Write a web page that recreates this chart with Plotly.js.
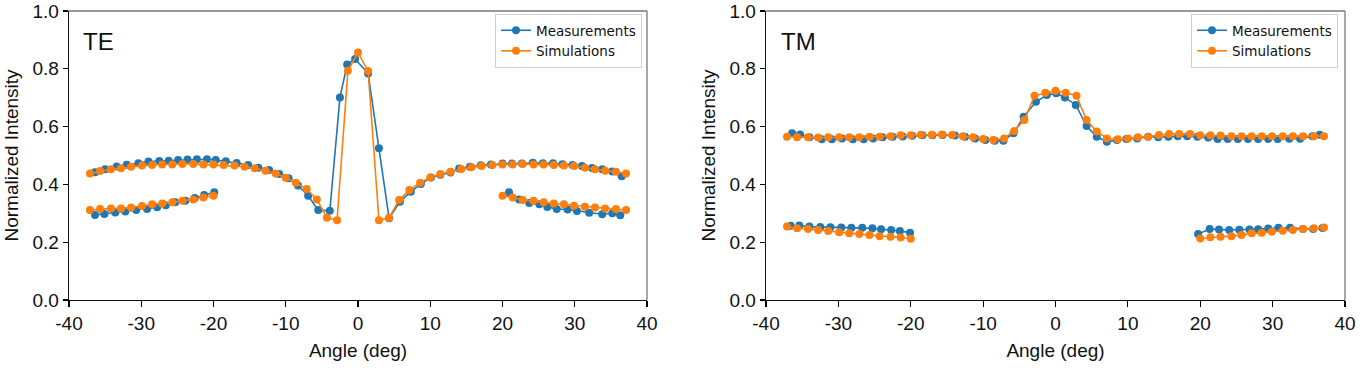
<!DOCTYPE html>
<html>
<head>
<meta charset="utf-8">
<script src="https://cdn.plot.ly/plotly-3.0.1.min.js"></script>
<style>html,body{margin:0;padding:0;background:#fff;}#chart{width:1363px;height:378px;}</style>
</head>
<body>
<div id="chart"></div>
<script>
// ---------- data ----------
const angleTicks = [-40, -30, -20, -10, 0, 10, 20, 30, 40];
const angleTickText = ['-40', '-30', '-20', '-10', '0', '10', '20', '30', '40'];
const intensityTicks = [0, 0.2, 0.4, 0.6, 0.8, 1.0];
const intensityTickText = ['0.0', '0.2', '0.4', '0.6', '0.8', '1.0'];

// Simulation angles (main branch)
const simAngles = [-37.1, -35.7, -34.2, -32.8, -31.4, -29.9, -28.5, -27.1, -25.7, -24.3, -22.8, -21.4, -20.0,
  -18.6, -17.1, -15.7, -14.3, -12.8, -11.4, -10.0, -8.6, -7.1, -5.7, -4.3, -2.9, -1.4, 0.0, 1.4, 2.9, 4.3,
  5.7, 7.1, 8.6, 10.0, 11.4, 12.8, 14.3, 15.7, 17.1, 18.6, 20.0, 21.4, 22.8, 24.3, 25.7, 27.1, 28.5, 29.9,
  31.4, 32.8, 34.2, 35.7, 37.1];
const simLowLeftAngles = [-37.1, -35.7, -34.2, -32.8, -31.4, -29.9, -28.5, -27.1, -25.7, -24.3, -22.8, -21.4, -20.0];
const simLowRightAngles = [20.0, 21.4, 22.8, 24.3, 25.7, 27.1, 28.5, 29.9, 31.4, 32.8, 34.2, 35.7, 37.1];

// TE - simulations
const teSimMain = [0.438, 0.446, 0.452, 0.456, 0.461, 0.465, 0.467, 0.469, 0.469, 0.471, 0.471, 0.469, 0.469,
  0.467, 0.465, 0.461, 0.456, 0.447, 0.438, 0.423, 0.406, 0.384, 0.348, 0.285, 0.276, 0.793, 0.856, 0.792,
  0.276, 0.285, 0.346, 0.381, 0.406, 0.424, 0.436, 0.444, 0.453, 0.459, 0.464, 0.467, 0.469, 0.469, 0.471,
  0.469, 0.469, 0.467, 0.465, 0.464, 0.458, 0.452, 0.447, 0.444, 0.438];
const teSimLowLeft = [0.311, 0.315, 0.317, 0.317, 0.320, 0.325, 0.331, 0.334, 0.338, 0.343, 0.348, 0.355, 0.361];
const teSimLowRight = [0.361, 0.355, 0.346, 0.343, 0.338, 0.334, 0.331, 0.326, 0.323, 0.320, 0.317, 0.315, 0.311];

// TE - measurements
const teMeasMainAngles = [-36.4, -35.0, -33.4, -32.0, -30.4, -29.0, -27.5, -26.2, -24.9, -23.6, -22.3, -20.9,
  -19.7, -18.3, -16.8, -15.2, -13.8, -12.3, -10.9, -9.6, -8.3, -6.9, -5.5, -3.9, -2.5, -1.5, -0.4, 1.4, 2.9,
  4.3, 5.8, 7.3, 8.7, 10.1, 11.4, 12.8, 14.0, 15.5, 17.0, 18.4, 20.0, 21.3, 22.7, 24.2, 25.6, 27.0, 28.3,
  29.7, 31.0, 32.4, 33.8, 35.2, 36.5];
const teMeasMain = [0.442, 0.452, 0.462, 0.468, 0.473, 0.479, 0.481, 0.482, 0.484, 0.486, 0.487, 0.487,
  0.484, 0.480, 0.474, 0.467, 0.458, 0.450, 0.436, 0.421, 0.396, 0.361, 0.311, 0.309, 0.701, 0.815, 0.834,
  0.784, 0.525, 0.283, 0.340, 0.375, 0.401, 0.424, 0.433, 0.441, 0.455, 0.461, 0.466, 0.469, 0.472, 0.472,
  0.472, 0.475, 0.473, 0.473, 0.470, 0.467, 0.464, 0.457, 0.452, 0.445, 0.428];
const teMeasLowLeftAngles = [-36.4, -35.1, -33.6, -32.2, -30.7, -29.2, -27.8, -26.6, -25.3, -23.9, -22.6, -21.3, -19.9];
const teMeasLowLeft = [0.294, 0.298, 0.303, 0.306, 0.311, 0.315, 0.321, 0.328, 0.338, 0.343, 0.353, 0.363, 0.373];
const teMeasLowRightAngles = [20.9, 22.3, 23.7, 25.1, 26.2, 27.5, 29.0, 30.3, 32.0, 33.8, 35.2, 36.3];
const teMeasLowRight = [0.373, 0.348, 0.336, 0.331, 0.322, 0.315, 0.313, 0.308, 0.302, 0.297, 0.300, 0.293];

// TM - simulations
const tmSimMain = [0.565, 0.563, 0.563, 0.562, 0.563, 0.563, 0.563, 0.563, 0.565, 0.565, 0.567, 0.570, 0.570,
  0.572, 0.572, 0.573, 0.571, 0.567, 0.563, 0.557, 0.554, 0.559, 0.585, 0.623, 0.707, 0.717, 0.724, 0.717,
  0.707, 0.623, 0.583, 0.559, 0.556, 0.559, 0.563, 0.565, 0.571, 0.574, 0.574, 0.574, 0.570, 0.570, 0.569,
  0.567, 0.567, 0.567, 0.567, 0.567, 0.567, 0.567, 0.567, 0.567, 0.567];
const tmSimLowLeft = [0.254, 0.248, 0.246, 0.242, 0.239, 0.234, 0.231, 0.228, 0.225, 0.221, 0.219, 0.216, 0.212];
const tmSimLowRight = [0.213, 0.217, 0.219, 0.221, 0.225, 0.231, 0.233, 0.236, 0.240, 0.242, 0.246, 0.248, 0.251];

// TM - measurements
const tmMeasMainAngles = [-36.4, -35.3, -34.0, -32.3, -30.9, -29.5, -28.0, -26.5, -25.2, -23.9, -22.5, -21.1,
  -19.8, -18.4, -17.0, -15.6, -13.9, -12.5, -11.1, -9.7, -8.4, -7.2, -5.8, -4.4, -2.7, -1.2, 0.1, 1.3, 2.8,
  4.3, 5.7, 7.1, 8.5, 9.8, 11.3, 12.8, 14.2, 15.6, 16.9, 18.2, 19.6, 21.1, 22.4, 23.8, 25.2, 26.6, 28.0,
  29.4, 30.7, 32.3, 33.8, 35.5, 36.5];
const tmMeasMain = [0.577, 0.573, 0.563, 0.556, 0.556, 0.559, 0.556, 0.556, 0.559, 0.563, 0.565, 0.566,
  0.568, 0.570, 0.570, 0.571, 0.569, 0.565, 0.559, 0.554, 0.551, 0.551, 0.577, 0.634, 0.686, 0.709, 0.715,
  0.701, 0.675, 0.602, 0.565, 0.548, 0.554, 0.557, 0.559, 0.565, 0.563, 0.565, 0.567, 0.567, 0.565, 0.562,
  0.557, 0.557, 0.557, 0.557, 0.557, 0.557, 0.557, 0.558, 0.558, 0.567, 0.572];
const tmMeasLowLeftAngles = [-36.6, -35.4, -34.0, -32.5, -31.1, -29.6, -28.2, -26.7, -25.3, -24.1, -22.7, -21.5, -20.1];
const tmMeasLowLeft = [0.257, 0.258, 0.254, 0.253, 0.252, 0.251, 0.250, 0.250, 0.248, 0.245, 0.242, 0.239, 0.233];
const tmMeasLowRightAngles = [19.7, 21.3, 22.6, 24.0, 25.4, 26.8, 28.0, 29.4, 30.8, 32.4, 34.2, 35.6, 36.9];
const tmMeasLowRight = [0.228, 0.246, 0.244, 0.242, 0.243, 0.244, 0.245, 0.247, 0.250, 0.250, 0.246, 0.246, 0.249];

// ---------- helpers ----------
function joinSegments(segs) {
  const out = [];
  segs.forEach((s, i) => { if (i > 0) out.push(null); s.forEach(v => out.push(v)); });
  return out;
}
const BLUE = '#1f77b4', ORANGE = '#ff7f0e';
const FONT = 'Liberation Sans, Arial, Helvetica, sans-serif';

function series(name, color, xs, ys, xa, ya, legend, show) {
  return {
    type: 'scatter', mode: 'lines+markers', name: name,
    x: joinSegments(xs), y: joinSegments(ys),
    xaxis: xa, yaxis: ya, legend: legend, showlegend: show,
    connectgaps: false,
    line: {color: color, width: 1.6},
    marker: {color: color, size: 8, symbol: 'circle'}
  };
}

const traces = [
  series('Measurements', BLUE, [teMeasMainAngles, teMeasLowLeftAngles, teMeasLowRightAngles],
         [teMeasMain, teMeasLowLeft, teMeasLowRight], 'x', 'y', 'legend', true),
  series('Simulations', ORANGE, [simAngles, simLowLeftAngles, simLowRightAngles],
         [teSimMain, teSimLowLeft, teSimLowRight], 'x', 'y', 'legend', true),
  series('Measurements', BLUE, [tmMeasMainAngles, tmMeasLowLeftAngles, tmMeasLowRightAngles],
         [tmMeasMain, tmMeasLowLeft, tmMeasLowRight], 'x2', 'y2', 'legend2', true),
  series('Simulations', ORANGE, [simAngles, simLowLeftAngles, simLowRightAngles],
         [tmSimMain, tmSimLowLeft, tmSimLowRight], 'x2', 'y2', 'legend2', true)
];

const W = 1363, H = 378;
const xd1 = [69 / W, 647 / W], xd2 = [766 / W, 1345 / W];
const yd = [(H - 300) / H, (H - 11) / H];

function xaxis(domain, anchor) {
  return {
    domain: domain, anchor: anchor, range: [-40, 40],
    tickmode: 'array', tickvals: angleTicks, ticktext: angleTickText,
    ticks: 'outside', ticklen: 6, tickwidth: 1.2, tickcolor: '#000',
    showline: true, linecolor: '#111', linewidth: 1.3, mirror: false,
    showgrid: false, zeroline: false,
    tickfont: {family: FONT, size: 19, color: '#111'},
    title: {text: 'Angle (deg)', font: {family: FONT, size: 19, color: '#111'}, standoff: 10},
    automargin: false, fixedrange: true
  };
}
function yaxis(domain, anchor) {
  return {
    domain: domain, anchor: anchor, range: [0, 1],
    tickmode: 'array', tickvals: intensityTicks, ticktext: intensityTickText,
    ticks: 'outside', ticklen: 5, tickwidth: 1.2, tickcolor: '#000',
    showline: true, linecolor: '#111', linewidth: 1.3, mirror: false,
    showgrid: false, zeroline: false,
    tickfont: {family: FONT, size: 19, color: '#111'},
    title: {text: 'Normalized Intensity', font: {family: FONT, size: 19, color: '#111'}, standoff: 8},
    automargin: false, fixedrange: true
  };
}
function frame(xd) {
  return [
    {type: 'line', xref: 'paper', yref: 'paper', x0: xd[0], x1: xd[1], y0: yd[1], y1: yd[1],
     line: {color: '#777', width: 1.3}},
    {type: 'line', xref: 'paper', yref: 'paper', x0: xd[1], x1: xd[1], y0: yd[0], y1: yd[1],
     line: {color: '#777', width: 1.3}}
  ];
}
const legendStyle = {
  bgcolor: '#ffffff', bordercolor: '#d0d0d0', borderwidth: 1,
  font: {family: 'DejaVu Sans, sans-serif', size: 13.5, color: '#111'},
  xanchor: 'right', yanchor: 'top', tracegroupgap: 0, itemwidth: 30
};

const layout = {
  width: W, height: H, margin: {l: 0, r: 0, t: 0, b: 0},
  paper_bgcolor: '#fff', plot_bgcolor: '#fff',
  showlegend: true,
  xaxis: xaxis(xd1, 'y'), yaxis: yaxis(yd, 'x'),
  xaxis2: xaxis(xd2, 'y2'), yaxis2: yaxis(yd, 'x2'),
  legend: Object.assign({x: 642 / W, y: 1 - 14 / H}, legendStyle),
  legend2: Object.assign({x: 1338 / W, y: 1 - 14 / H}, legendStyle),
  shapes: frame(xd1).concat(frame(xd2)),
  annotations: [
    {text: 'TE', xref: 'paper', yref: 'paper', x: 81 / W, y: 1 - 41 / H, xanchor: 'left', yanchor: 'middle',
     showarrow: false, font: {family: FONT, size: 24, color: '#111'}},
    {text: 'TM', xref: 'paper', yref: 'paper', x: 779 / W, y: 1 - 41 / H, xanchor: 'left', yanchor: 'middle',
     showarrow: false, font: {family: FONT, size: 24, color: '#111'}}
  ]
};

Plotly.newPlot('chart', traces, layout, {displayModeBar: false, staticPlot: true});
</script>
</body>
</html>
